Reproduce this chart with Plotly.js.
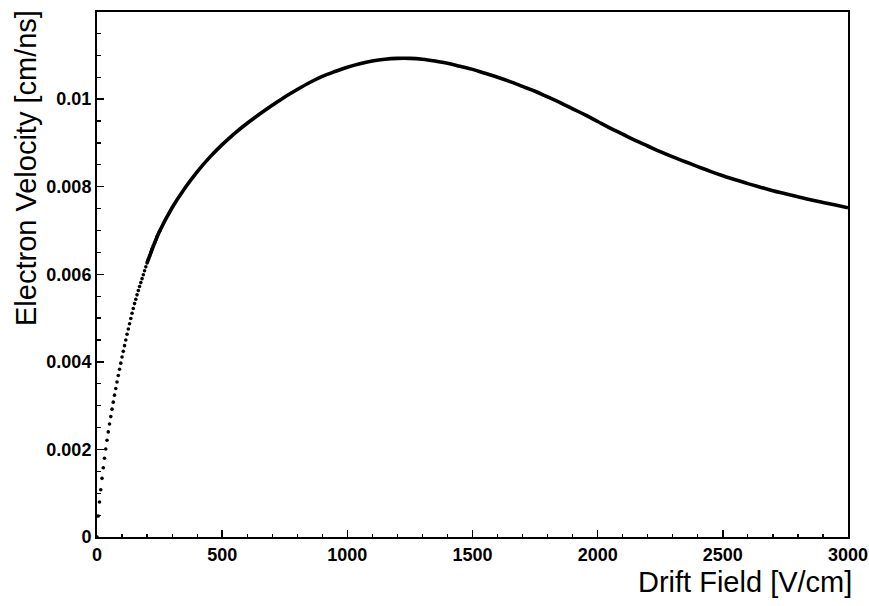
<!DOCTYPE html>
<html>
<head>
<meta charset="utf-8">
<script src="https://cdn.plot.ly/plotly-3.0.1.min.js"></script>
<style>html,body{margin:0;padding:0;background:#fff;}#chart{width:869px;height:606px;}</style>
</head>
<body>
<div id="chart"></div>
<script>
// Low-field samples (drawn as separate dots)
const dotField = [0,5,10,15,20,25,30,35,40,45,50,55,60,65,70,75,80,85,90,95,100,105,110,115,120,125,130,135,140,145,150,155,160,165,170,175,180,185,190,195,200,205,210,215,220,225,230,235,240,245,250];
const dotVelocity = [0,0.00048,0.00080,0.00108,0.00134,0.00158,0.00180,0.00201,0.00221,0.00240,0.00258,0.00275,0.00292,0.00308,0.00324,0.00339,0.00354,0.00369,0.00383,0.00397,0.00411,0.00424,0.00437,0.00450,0.00463,0.00475,0.00487,0.00499,0.00511,0.00522,0.00533,0.00543,0.00553,0.00563,0.00572,0.00581,0.00590,0.00599,0.00608,0.00617,0.00626,0.00634,0.00642,0.00650,0.00658,0.00665,0.00672,0.00679,0.00686,0.00692,0.00698];
// Higher-field samples (dense points merge into a continuous curve)
const curveField = [200,250,300,350,400,450,500,550,600,650,700,750,800,850,900,950,1000,1050,1100,1150,1200,1250,1300,1350,1400,1450,1500,1550,1600,1650,1700,1750,1800,1850,1900,1950,2000,2050,2100,2150,2200,2250,2300,2350,2400,2450,2500,2550,2600,2650,2700,2750,2800,2850,2900,2950,3000];
const curveVelocity = [0.00626,0.00698,0.00752,0.00796,0.00834,0.00867,0.00896,0.00922,0.00945,0.00966,0.00986,0.01005,0.01022,0.01038,0.01052,0.01063,0.01073,0.01081,0.01087,0.01091,0.01093,0.01093,0.01091,0.01087,0.01082,0.01075,0.01068,0.01059,0.01050,0.01040,0.01029,0.01018,0.01005,0.00992,0.00978,0.00964,0.00949,0.00934,0.00920,0.00906,0.00893,0.00880,0.00868,0.00857,0.00846,0.00835,0.00825,0.00816,0.00807,0.00799,0.00791,0.00784,0.00777,0.00770,0.00764,0.00758,0.00752];

const xTickVals = [0,500,1000,1500,2000,2500,3000];
const xTickText = ['0','500','1000','1500','2000','2500','3000'];
const yTickVals = [0,0.002,0.004,0.006,0.008,0.01];
const yTickText = ['0','0.002','0.004','0.006','0.008','0.01'];
const xTitle = 'Drift Field [V/cm]';
const yTitle = 'Electron Velocity [cm/ns]';

const FONT = 'Liberation Sans, Arial, Helvetica, sans-serif';

const traces = [
  {x: curveField, y: curveVelocity, type: 'scatter', mode: 'lines',
   line: {color: '#000', width: 3.6, shape: 'spline', smoothing: 1}, hoverinfo: 'skip'},
  {x: dotField, y: dotVelocity, type: 'scatter', mode: 'markers',
   marker: {color: '#000', size: 3.6}, hoverinfo: 'skip'}
];

const axisCommon = {
  showgrid: false, zeroline: false, showline: true, linecolor: '#000', linewidth: 2,
  mirror: true, ticks: 'inside', tickcolor: '#000', tickwidth: 1.5, ticklen: 7,
  tickmode: 'array',
  tickfont: {family: FONT, size: 18, color: '#000', weight: 'bold'}
};

const layout = {
  width: 869, height: 606,
  margin: {l: 97, r: 21, t: 12, b: 69},
  paper_bgcolor: '#fff', plot_bgcolor: '#fff',
  showlegend: false,
  xaxis: Object.assign({}, axisCommon, {
    range: [0, 3000], tickvals: xTickVals, ticktext: xTickText,
    minor: {tickvals: [100,200,300,400,600,700,800,900,1100,1200,1300,1400,1600,1700,1800,1900,2100,2200,2300,2400,2600,2700,2800,2900], ticks: 'inside', ticklen: 3.5, tickcolor: '#000', tickwidth: 1.2}
  }),
  yaxis: Object.assign({}, axisCommon, {
    range: [0, 0.01199], tickvals: yTickVals, ticktext: yTickText,
    minor: {dtick: 0.0005, ticks: 'inside', ticklen: 3.5, tickcolor: '#000', tickwidth: 1.2}
  }),
  annotations: [
    {text: xTitle, xref: 'paper', yref: 'paper', x: 1, y: 0, xanchor: 'right', yanchor: 'top',
     xshift: 6, yshift: -27, showarrow: false, font: {family: FONT, size: 29, color: '#000'}},
    {text: yTitle, xref: 'paper', yref: 'paper', x: 0, y: 1, xanchor: 'left', yanchor: 'top',
     xshift: -89, yshift: 4, textangle: -90, showarrow: false, font: {family: FONT, size: 29, color: '#000'}}
  ]
};

Plotly.newPlot('chart', traces, layout, {staticPlot: true, displayModeBar: false});
</script>
</body>
</html>
